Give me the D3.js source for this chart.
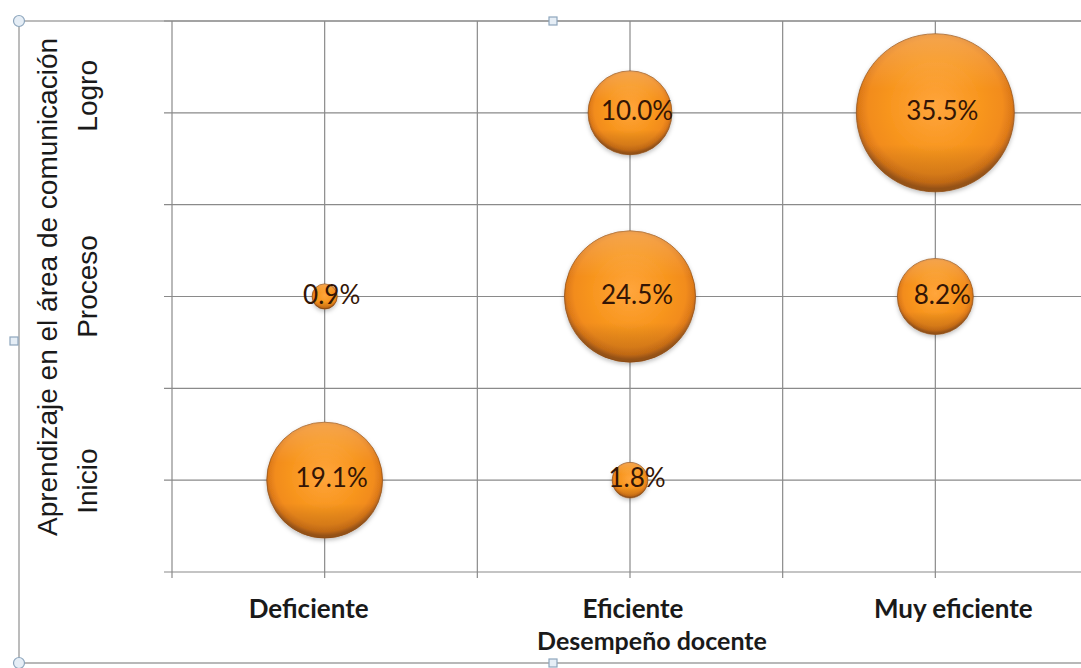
<!DOCTYPE html>
<html>
<head>
<meta charset="utf-8">
<script src="https://cdn.jsdelivr.net/npm/d3@7"></script>
<style>
  html, body { margin: 0; padding: 0; background: #fff; }
  svg { display: block; }
</style>
</head>
<body>
<svg id="chart" width="1081" height="668"></svg>
<script>
// ---- data ----
const xCategories = ["Deficiente", "Eficiente", "Muy eficiente"];
const yCategories = ["Inicio", "Proceso", "Logro"];
const pointX = ["Deficiente", "Deficiente", "Eficiente", "Eficiente", "Eficiente", "Muy eficiente", "Muy eficiente"];
const pointY = ["Inicio", "Proceso", "Inicio", "Proceso", "Logro", "Proceso", "Logro"];
const pointValue = [19.1, 0.9, 1.8, 24.5, 10.0, 8.2, 35.5];
const xTitle = "Desempeño docente";
const yTitle = "Aprendizaje en el área de comunicación";
const gridTicks = [0.5, 1, 1.5, 2, 2.5, 3, 3.5];

// ---- layout ----
const W = 1081, H = 668;
const plot = { left: 172, right: 1088, top: 21, bottom: 572 };
const xLabelShift = [-16, 3, 18];
const yLabelShift = [1, -10, -17];

const svg = d3.select("#chart");
const defs = svg.append("defs");

const x = d3.scaleLinear().domain([0.5, 3.5]).range([plot.left, plot.right]);
const y = d3.scaleLinear().domain([0.5, 3.5]).range([plot.bottom, plot.top]);
const r = d3.scaleSqrt().domain([0, 35.5]).range([0, 79]);
const xIndex = c => xCategories.indexOf(c) + 1;
const yIndex = c => yCategories.indexOf(c) + 1;

// gradients / filters
const rg = defs.append("radialGradient").attr("id", "bubbleFill")
  .attr("cx", "50%").attr("cy", "46%").attr("r", "52%");
[["0%", "#FFA53C"], ["55%", "#F8961F"], ["82%", "#F28C1B"], ["93%", "#DE7A19"], ["100%", "#A85E1E"]]
  .forEach(([o, c]) => rg.append("stop").attr("offset", o).attr("stop-color", c));
const lg = defs.append("linearGradient").attr("id", "bubbleShade")
  .attr("x1", "0").attr("y1", "0").attr("x2", "0").attr("y2", "1");
[["0%", "#ffffff", 0.22], ["35%", "#ffffff", 0.0], ["70%", "#000000", 0.0], ["100%", "#5a2a00", 0.25]]
  .forEach(([o, c, a]) => lg.append("stop").attr("offset", o).attr("stop-color", c).attr("stop-opacity", a));
const flt = defs.append("filter").attr("id", "shadow")
  .attr("x", "-20%").attr("y", "-20%").attr("width", "140%").attr("height", "150%");
flt.append("feDropShadow").attr("dx", 0).attr("dy", 2).attr("stdDeviation", 2)
  .attr("flood-color", "#000").attr("flood-opacity", 0.25);

// outer chart frame
const frame = svg.append("g").attr("stroke", "#a6a6a6").attr("fill", "none");
frame.append("line").attr("x1", 19).attr("x2", 19).attr("y1", 21).attr("y2", 663).attr("stroke-width", 1.5);
frame.append("line").attr("x1", 19).attr("x2", W).attr("y1", 21).attr("y2", 21).attr("stroke-width", 1.5);
frame.append("line").attr("x1", 19).attr("x2", W).attr("y1", 663).attr("y2", 663).attr("stroke-width", 2).attr("stroke", "#b8b8b8");

// gridlines
const grid = svg.append("g").attr("stroke", "#8a8a8a").attr("stroke-width", 1.2);
grid.selectAll(".hg").data(gridTicks).join("line")
  .attr("x1", plot.left - 8).attr("x2", plot.right)
  .attr("y1", d => y(d)).attr("y2", d => y(d));
grid.selectAll(".vg").data(gridTicks).join("line")
  .attr("y1", plot.top).attr("y2", plot.bottom + 6)
  .attr("x1", d => x(d)).attr("x2", d => x(d));

// bubbles
const pts = pointValue.map((v, i) => ({ v, cx: x(xIndex(pointX[i])), cy: y(yIndex(pointY[i])) }))
  .sort((a, b) => b.v - a.v);
const bub = svg.append("g");
bub.selectAll("circle.b").data(pts).join("circle")
  .attr("cx", d => d.cx).attr("cy", d => d.cy).attr("r", d => r(d.v))
  .attr("fill", "url(#bubbleFill)").attr("filter", "url(#shadow)")
  .attr("stroke", "#95531a").attr("stroke-width", 1).attr("stroke-opacity", 0.75);
bub.selectAll("circle.s").data(pts).join("circle")
  .attr("cx", d => d.cx).attr("cy", d => d.cy).attr("r", d => r(d.v))
  .attr("fill", "url(#bubbleShade)");

// bubble labels
svg.append("g").selectAll("text").data(pts).join("text")
  .attr("x", d => d.cx + 7).attr("y", d => d.cy + 7)
  .attr("text-anchor", "middle")
  .attr("font-family", "Lato, 'Open Sans', sans-serif").attr("font-size", 26)
  .attr("fill", "#331505")
  .text(d => d.v.toFixed(1) + "%");

// x category labels
svg.append("g").selectAll("text").data(xCategories).join("text")
  .attr("x", (d, i) => x(i + 1) + xLabelShift[i]).attr("y", 618)
  .attr("text-anchor", "middle")
  .attr("font-family", "Lato, sans-serif").attr("font-weight", 700).attr("font-size", 26)
  .attr("fill", "#1a1a1a").text(d => d);

// x title
svg.append("text").attr("x", 652).attr("y", 650).attr("text-anchor", "middle")
  .attr("font-family", "Lato, sans-serif").attr("font-weight", 700).attr("font-size", 25)
  .attr("fill", "#1a1a1a").text(xTitle);

// y category labels
svg.append("g").selectAll("text").data(yCategories).join("text")
  .attr("transform", (d, i) => `translate(97,${y(i + 1) + yLabelShift[i]}) rotate(-90)`)
  .attr("text-anchor", "middle")
  .attr("font-family", "'Liberation Sans', Arial, sans-serif").attr("font-size", 28)
  .attr("fill", "#1a1a1a").text(d => d);

// y title
svg.append("text").attr("transform", "translate(57,287) rotate(-90)")
  .attr("text-anchor", "middle")
  .attr("font-family", "'Liberation Sans', Arial, sans-serif").attr("font-size", 28)
  .attr("fill", "#1a1a1a").text(yTitle);

// selection handles
const handles = svg.append("g").attr("stroke", "#8ea6bd").attr("stroke-width", 1.2).attr("fill", "#e6eef6");
handles.selectAll("circle").data([[19, 21], [19, 663]]).join("circle")
  .attr("cx", d => d[0]).attr("cy", d => d[1]).attr("r", 5.5);
handles.selectAll("rect").data([[553, 21], [553, 663], [14, 341]]).join("rect")
  .attr("x", d => d[0] - 4).attr("y", d => d[1] - 4).attr("width", 8).attr("height", 8);
</script>
</body>
</html>
